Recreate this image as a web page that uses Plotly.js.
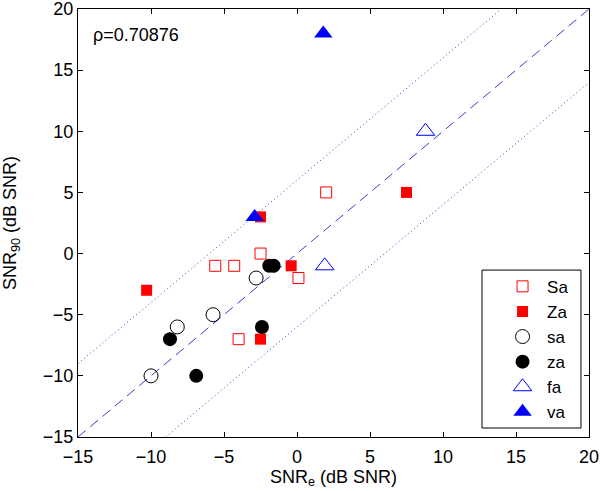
<!DOCTYPE html>
<html>
<head>
<meta charset="utf-8">
<script src="https://cdn.plot.ly/plotly-3.0.1.min.js"></script>
<style>html,body{margin:0;padding:0;background:#fff;}#chart{width:601px;height:491px;}</style>
</head>
<body>
<div id="chart"></div>
<script>
// Data
const SaX = [-5.6, -4.3, -2.5, 0.1, -4.0, 2.0];
const SaY = [-1, -1, 0, -2, -7, 5];
const ZaX = [-10.3, -0.4, -2.5, -2.5, 7.5];
const ZaY = [-3, -1, -7, 3, 5];
const saX = [-2.8, -5.75, -8.2, -10.0];
const saY = [-2, -5, -6, -10];
const zaX = [-1.9, -1.6, -2.4, -8.7, -6.9];
const zaY = [-1, -1, -6, -7, -10];
const faX = [1.9, 8.8];
const faY = [-1, 10];
const vaX = [-2.9, 1.8];
const vaY = [3, 18];
const identityX = [-15, 20];
const identityY = [-15, 20];
const upperX = [-15, 14];
const upperY = [-9, 20];
const lowerX = [-9, 20];
const lowerY = [-15, 14];
const rhoText = "ρ=0.70876";

const fam = "Liberation Sans, Arial, sans-serif";
const font = {family: fam, size: 18, color: "#000"};
const lineColor = "#3a3ad6";

const traces = [
  {x: identityX, y: identityY, mode: "lines", line: {color: lineColor, width: 1, dash: "10px,6px"}, showlegend: false, hoverinfo: "skip"},
  {x: upperX, y: upperY, mode: "lines", line: {color: lineColor, width: 1, dash: "1px,3px"}, showlegend: false, hoverinfo: "skip"},
  {x: lowerX, y: lowerY, mode: "lines", line: {color: lineColor, width: 1, dash: "1px,3px"}, showlegend: false, hoverinfo: "skip"},
  {x: SaX, y: SaY, name: "Sa", mode: "markers", marker: {symbol: "square-open", size: 11, color: "#ff0000", line: {width: 1, color: "#ff0000"}}},
  {x: ZaX, y: ZaY, name: "Za", mode: "markers", marker: {symbol: "square", size: 11, color: "#ff0000", line: {width: 0}}},
  {x: saX, y: saY, name: "sa", mode: "markers", marker: {symbol: "circle-open", size: 14, color: "#000", line: {width: 1, color: "#000"}}},
  {x: zaX, y: zaY, name: "za", mode: "markers", marker: {symbol: "circle", size: 14, color: "#000", line: {width: 0}}},
  {x: faX, y: faY, name: "fa", mode: "markers", marker: {symbol: "triangle-up-open", size: 16, color: "#0000ff", line: {width: 1, color: "#0000ff"}}},
  {x: vaX, y: vaY, name: "va", mode: "markers", marker: {symbol: "triangle-up", size: 16, color: "#0000ff", line: {width: 0}}}
];

const axisCommon = {
  showgrid: false, zeroline: false, showline: true, linecolor: "#000", linewidth: 1,
  mirror: "ticks", ticks: "inside", ticklen: 5, tickcolor: "#000", tickfont: font,
  dtick: 5, tick0: 0, autorange: false, ticklabeloverflow: "allow"
};

const layout = {
  width: 601, height: 491,
  margin: {l: 78, r: 12, t: 9, b: 54},
  paper_bgcolor: "#fff", plot_bgcolor: "#fff",
  font: font,
  xaxis: Object.assign({}, axisCommon, {range: [-15, 20], ticklabelstandoff: 3, title: {text: "SNR<sub>e</sub> (dB SNR)", font: font, standoff: 0}}),
  yaxis: Object.assign({}, axisCommon, {range: [-15, 20], title: {text: "SNR<sub>90</sub> (dB SNR)", font: font, standoff: 26}}),
  legend: {x: 0.822, y: 0.393, xanchor: "left", yanchor: "top", borderwidth: 0, bgcolor: "rgba(0,0,0,0)", font: {family: fam, size: 17, color: "#000"}, itemwidth: 39},
  shapes: [{type: "rect", xref: "paper", yref: "paper", x0: 0.7906, x1: 0.9843, y0: 0.021, y1: 0.390, line: {color: "#000", width: 1}, fillcolor: "#fff", layer: "below"}],
  annotations: [{text: rhoText, xref: "paper", yref: "paper", x: 0.026, y: 0.94, xanchor: "left", yanchor: "middle", showarrow: false, font: font}]
};

Plotly.newPlot("chart", traces, layout, {displayModeBar: false, staticPlot: true});
</script>
</body>
</html>
